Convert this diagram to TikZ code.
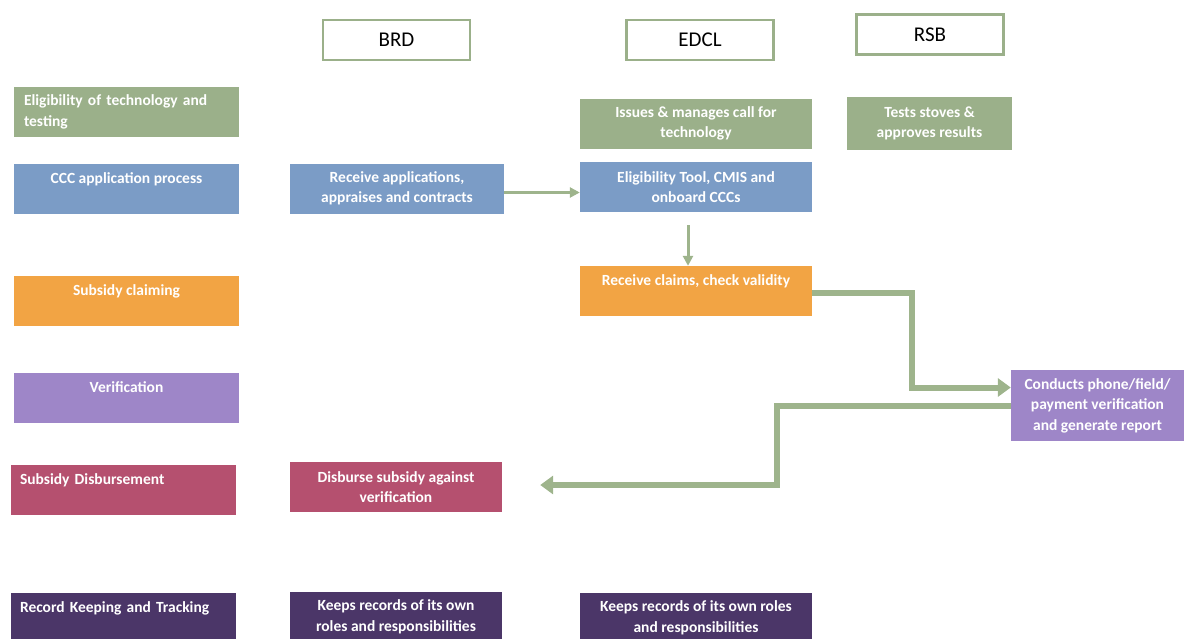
\documentclass[tikz,border=0pt]{standalone}
\usepackage{fontspec}
\setmainfont{Carlito}
\usetikzlibrary{arrows.meta,positioning}

\definecolor{cgreen}{RGB}{155,176,138}
\definecolor{cblue}{RGB}{123,156,198}
\definecolor{corange}{RGB}{242,164,68}
\definecolor{clilac}{RGB}{158,134,200}
\definecolor{crose}{RGB}{181,80,111}
\definecolor{cplum}{RGB}{75,54,104}
\definecolor{carrow}{RGB}{158,180,140}

\tikzset{
  head/.style={draw=cgreen,line width=2.5pt,fill=white,minimum width=147pt,
    minimum height=40pt,inner sep=0pt,font=\fontsize{21}{24}\selectfont},
  box/.style={minimum height=50pt,inner sep=0pt,text=white,align=center,
    font=\bfseries\fontsize{15.5}{20.5}\selectfont},
  lbox/.style={box,align=left},
  up/.style={text depth=21pt},
  thinarrow/.style={draw=carrow,line width=3pt,-{Triangle[length=10pt,width=10pt]}},
  thickarrow/.style={draw=carrow,line width=6pt,-{Triangle[length=13pt,width=18pt]}}
}

\begin{document}
\begin{tikzpicture}[x=1pt,y=-1pt]
  \useasboundingbox (0,0) rectangle (1184,638);
  \clip (0,0) rectangle (1184,638);

  % column heads
  \node[head] (brd) at (396.5,40) {BRD};
  \node[head] (edcl) at (700,40) {EDCL};
  \node[head] (rsb) at (930,34.5) {RSB};

  % phases
  \node[lbox,fill=cgreen,minimum width=225pt,text width=205pt] (elig) at (126.5,112)
    {Eligibility of technology and\\testing};
  \node[box,up,fill=cblue,minimum width=225pt] (ccc) at (126.5,188.5) {CCC application process};
  \node[box,up,fill=corange,minimum width=225pt] (claim) at (126.5,300.5) {Subsidy claiming};
  \node[box,up,fill=clilac,minimum width=225pt] (verif) at (126.5,398) {Verification};
  \node[lbox,up,fill=crose,minimum width=225pt,text width=207pt] (disb) at (123.5,490)
    {Subsidy Disbursement};
  \node[lbox,up,fill=cplum,minimum width=225pt,text width=207pt] (rec) at (123.5,618)
    {Record Keeping and Tracking};

  % BRD
  \node[box,fill=cblue,minimum width=214pt] (recv) at (397,188.5)
    {Receive applications,\\appraises and contracts};
  \node[box,fill=crose,minimum width=212pt] (bdisb) at (396,487)
    {Disburse subsidy against\\verification};
  \node[box,fill=cplum,minimum width=212pt] (brec) at (396,617)
    {Keeps records of its own\\roles and responsibilities};

  % EDCL
  \node[box,fill=cgreen,minimum width=232pt] (issue) at (696,123.5)
    {Issues \& manages call for\\technology};
  \node[box,fill=cblue,minimum width=232pt] (tool) at (696,187)
    {Eligibility Tool, CMIS and\\onboard CCCs};
  \node[box,up,fill=corange,minimum width=232pt] (rclaim) at (696,291)
    {Receive claims, check validity};
  \node[box,fill=cplum,minimum width=232pt] (erec) at (696,618)
    {Keeps records of its own roles\\and responsibilities};

  % RSB
  \node[box,fill=cgreen,minimum width=165pt,minimum height=53pt] (test) at (929.5,123.5)
    {Tests stoves \&\\approves results};
  \node[box,fill=clilac,minimum width=173pt,minimum height=71pt] (conduct) at (1097.5,405.5)
    {Conducts phone/field/\\payment verification\\and generate report};

  % flow
  \draw[thinarrow] ([yshift=-4pt]recv.east) -- ([yshift=-4pt]recv.east -| tool.west);
  \draw[thinarrow] ([xshift=-8pt,yshift=-13pt]tool.south) -- ([xshift=-8pt]rclaim.north);
  \draw[thickarrow] ([yshift=-2pt]rclaim.east) -- ++(100,0) |- ([yshift=18pt]conduct.west);
  \draw[thickarrow] (conduct.west) -- ++(-234,0) |- ([xshift=38pt,yshift=2pt]bdisb.east);
\end{tikzpicture}
\end{document}
